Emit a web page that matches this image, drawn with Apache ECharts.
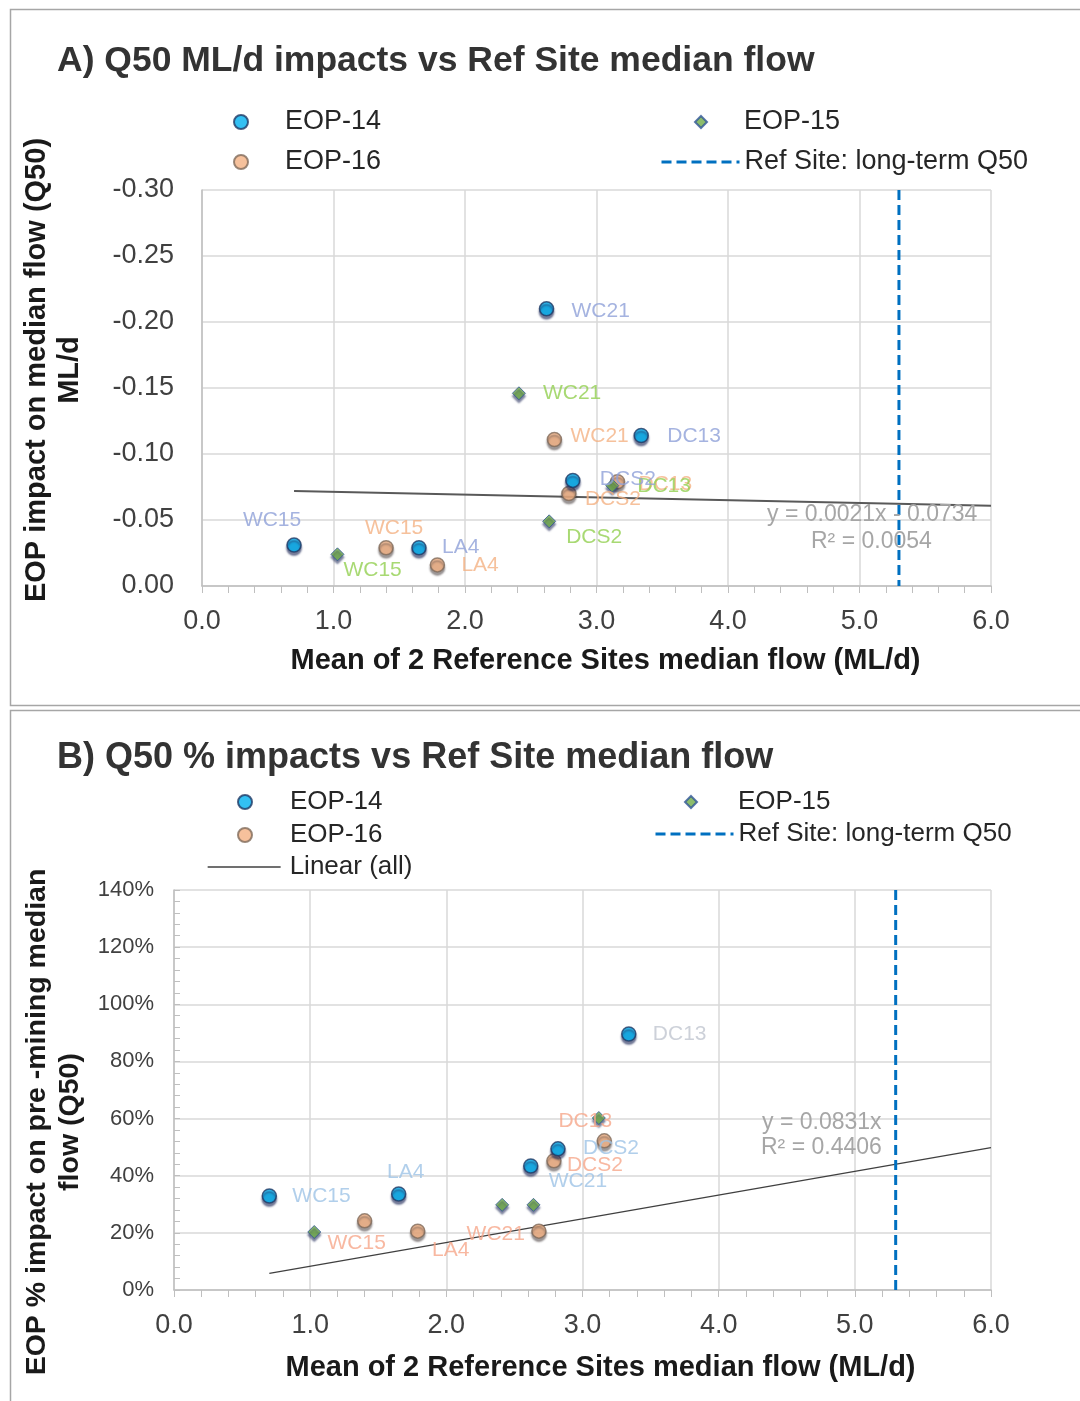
<!DOCTYPE html>
<html>
<head>
<meta charset="utf-8">
<script src="https://cdn.jsdelivr.net/npm/echarts@6/dist/echarts.min.js"></script>
<style>
html,body{margin:0;padding:0;background:#fff;}
#chart{width:1080px;height:1401px;}
</style>
</head>
<body>
<div id="chart"></div>
<script>
// ---------- DATA ----------
const titleA = 'A) Q50 ML/d impacts vs Ref Site median flow';
const titleB = 'B) Q50 % impacts vs Ref Site median flow';
const xAxisName = 'Mean of 2 Reference Sites median flow (ML/d)';
const yNameA = 'EOP impact on median flow (Q50)\nML/d';
const yNameB = 'EOP % impact on pre -mining median\nflow (Q50)';

const refSiteQ50 = 5.3; // Ref Site long-term Q50 (ML/d)

// x = mean of 2 reference sites median flow (ML/d), shared by both panels
const sitesEOP14 = ['WC15', 'LA4', 'WC21', 'DCS2', 'DC13'];
const xEOP14 = [0.70, 1.65, 2.62, 2.82, 3.34];
const sitesEOP15 = ['WC15', 'WC21', 'DCS2', 'DC13'];
const xEOP15 = [1.03, 2.41, 2.64, 3.12];
const sitesEOP16 = ['WC15', 'LA4', 'WC21', 'DCS2', 'DC13'];
const xEOP16 = [1.40, 1.79, 2.68, 2.79, 3.16];

// Panel A: impact on median flow (ML/d)
const yA_EOP14 = [-0.031, -0.029, -0.210, -0.080, -0.114];
const yA_EOP15 = [-0.024, -0.146, -0.049, -0.076];
const yA_EOP16 = [-0.029, -0.016, -0.111, -0.070, -0.079];
// Panel B: % impact on pre-mining median flow
const yB_EOP14 = [0.329, 0.336, 0.434, 0.494, 0.896];
const yB_EOP15 = [0.203, 0.298, 0.298, 0.602];
const yB_EOP16 = [0.242, 0.206, 0.206, 0.452, 0.522];

// Linear trend lines (all points)
const trendA = { slope: 0.0021, intercept: -0.0734, xFrom: 0.7, xTo: 6.0 };
const trendB = { slope: 0.0831, intercept: 0, xFrom: 0.7, xTo: 6.0 };
const eqA = ['y = 0.0021x - 0.0734', 'R² = 0.0054'];
const eqB = ['y = 0.0831x', 'R² = 0.4406'];

const yTicksA = { min: -0.30, max: 0.00, interval: 0.05 };
const yTicksB = { min: 0, max: 1.4, interval: 0.2 };
const xTicks = { min: 0, max: 6, interval: 1 };

// ---------- LABEL LAYOUT (style, not data) : [dx, dy, align] ----------
const lblA14 = { WC15: [-22, -25, 'center'], LA4: [23, -1, 'left'], WC21: [25, 2, 'left'], DCS2: [27, -1, 'left'], DC13: [26, 1, 'left'] };
const lblA15 = { WC15: [6, 16, 'left'], WC21: [24, 0, 'left'], DCS2: [17, 16, 'left'], DC13: [25, 1, 'left'] };
const lblA16 = { WC15: [8, -20, 'center'], LA4: [24, 0, 'left'], WC21: [16, -3, 'left'], DCS2: [16, 6, 'left'], DC13: [21, 2, 'left'] };
const lblB14 = { WC15: [23, 0, 'left'], LA4: [7, -22, 'center'], WC21: [18, 15, 'left'], DCS2: [25, -1, 'left'], DC13: [24, 0, 'left', '#c0c6d0'] };
const lblB16 = { WC15: [-8, 22, 'center'], LA4: [33, 19, 'center'], WC21: [-14, 3, 'right'], DCS2: [13, 4, 'left'], DC13: [-19, -20, 'center'] };

const FONT = "'Liberation Sans', Arial, sans-serif";

function pts(sites, xs, ys, layout, color) {
  return sites.map((s, i) => {
    const item = { name: s, value: [xs[i], ys[i]] };
    if (layout && layout[s]) {
      const L = layout[s];
      item.label = {
        show: true, position: 'inside', offset: [L[0], L[1]], align: L[2],
        verticalAlign: 'middle', formatter: s, color: L[3] || color
      };
    } else {
      item.label = { show: false };
    }
    return item;
  });
}
function trendData(t) {
  return [[t.xFrom, t.slope * t.xFrom + t.intercept], [t.xTo, t.slope * t.xTo + t.intercept]];
}

const styles = {
  EOP14: { color: '#00b0f0', borderColor: '#1f3864', borderWidth: 1.5, shadowColor: 'rgba(20,30,80,0.7)', shadowBlur: 2, shadowOffsetY: 3 },
  EOP15: { color: '#70ad47', borderColor: '#2f5597', borderWidth: 1, shadowColor: 'rgba(20,30,80,0.7)', shadowBlur: 2, shadowOffsetY: 3 },
  EOP16: { color: '#f4b183', borderColor: '#7f6a5a', borderWidth: 1.5, shadowColor: 'rgba(60,50,50,0.6)', shadowBlur: 2, shadowOffsetY: 3 }
};

function scatter(name, data, idx, st, symbol, size, labelColor) {
  return {
    type: 'scatter', name: name, xAxisIndex: idx, yAxisIndex: idx,
    symbol: symbol, symbolSize: size, itemStyle: st, data: data, z: 5,
    label: { fontSize: 21, fontFamily: FONT, color: labelColor },
    emphasis: { disabled: true }
  };
}

function xAxisCfg(idx) {
  return {
    type: 'value', gridIndex: idx, min: xTicks.min, max: xTicks.max, interval: xTicks.interval,
    name: xAxisName, nameLocation: 'middle', nameGap: idx === 0 ? 60 : 63,
    nameTextStyle: { fontSize: 29, fontWeight: 'bold', color: '#1a1a1a', fontFamily: FONT,
      padding: idx === 0 ? [0, 0, 0, 18] : [0, 0, 0, 36] },
    axisLine: { show: true, lineStyle: { color: '#bfbfbf', width: 1.5 } },
    axisTick: { show: true, length: 7, lineStyle: { color: '#bfbfbf' } },
    minorTick: { show: true, splitNumber: 5, length: 7, lineStyle: { color: '#bfbfbf' } },
    splitLine: { show: true, lineStyle: { color: '#d9d9d9', width: 1.5 } },
    axisLabel: { fontSize: 27, color: '#404040', fontFamily: FONT, margin: 22, formatter: v => v.toFixed(1) }
  };
}

function legendItem(name, icon, left, centerY, w, h, spacer, size, lineW) {
  const d = { name: name };
  if (icon) d.icon = icon;
  if (lineW) { d.itemStyle = { opacity: 0 }; d.lineStyle = { width: lineW }; }
  return {
    data: [d], left: left, top: centerY - size / 2 + 2,
    itemWidth: w, itemHeight: h, padding: 0, selectedMode: false,
    formatter: n => '{s|}' + n,
    textStyle: { fontSize: size, color: '#262626', fontFamily: FONT, rich: { s: { width: spacer, fontSize: size } } }
  };
}

const option = {
  animation: false,
  backgroundColor: '#ffffff',
  title: [
    { text: titleA, left: 52, top: 38, textStyle: { fontSize: 35.5, fontWeight: 'bold', color: '#333333', fontFamily: FONT } },
    { text: titleB, left: 52, top: 735, textStyle: { fontSize: 36, fontWeight: 'bold', color: '#333333', fontFamily: FONT } }
  ],
  legend: [
    legendItem('EOP-14', 'circle', 233, 120, 14, 14, 32, 27),
    legendItem('EOP-15', 'diamond', 694, 120, 12, 12, 32, 27),
    legendItem('EOP-16', 'circle', 233, 160, 14, 14, 32, 27),
    legendItem('Ref Site: long-term Q50', null, 660, 160, 78, 14, 0, 27, 3),
    legendItem('EOP-14', 'circle', 237, 800, 14, 14, 33, 26),
    legendItem('EOP-15', 'diamond', 684, 800, 12, 12, 36, 26),
    legendItem('EOP-16', 'circle', 237, 833, 14, 14, 33, 26),
    legendItem('Ref Site: long-term Q50', null, 654, 832, 78, 14, 0, 26, 3),
    legendItem('Linear (all)', null, 207, 865, 73, 14, 4, 26, 1.3)
  ],
  grid: [
    { left: 202, top: 190, width: 789, height: 396 },
    { left: 174, top: 890, width: 817, height: 400 }
  ],
  xAxis: [xAxisCfg(0), xAxisCfg(1)],
  yAxis: [
    {
      type: 'value', gridIndex: 0, inverse: true, min: yTicksA.min, max: yTicksA.max, interval: yTicksA.interval,
      name: yNameA, nameLocation: 'middle', nameRotate: 90, nameGap: 116,
      nameTextStyle: { fontSize: 29, fontWeight: 'bold', color: '#1a1a1a', fontFamily: FONT, lineHeight: 33, align: 'center',
        padding: [0, 0, 0, 36] },
      axisLine: { show: true, lineStyle: { color: '#bfbfbf', width: 1.5 } },
      axisTick: { show: false },
      splitLine: { show: true, lineStyle: { color: '#d9d9d9', width: 1.5 } },
      axisLabel: { fontSize: 27, color: '#404040', fontFamily: FONT, margin: 28, formatter: v => v.toFixed(2) }
    },
    {
      type: 'value', gridIndex: 1, min: yTicksB.min, max: yTicksB.max, interval: yTicksB.interval,
      name: yNameB, nameLocation: 'middle', nameRotate: 90, nameGap: 86,
      nameTextStyle: { fontSize: 28.5, fontWeight: 'bold', color: '#1a1a1a', fontFamily: FONT, lineHeight: 33, align: 'center',
        padding: [0, 64, 0, 0] },
      axisLine: { show: true, lineStyle: { color: '#bfbfbf', width: 1.5 } },
      axisTick: { show: true, inside: true, length: 6, lineStyle: { color: '#bfbfbf' } },
      minorTick: { show: true, splitNumber: 5, length: 6, lineStyle: { color: '#bfbfbf' } },
      splitLine: { show: true, lineStyle: { color: '#d9d9d9', width: 1.5 } },
      axisLabel: { fontSize: 22, color: '#404040', fontFamily: FONT, margin: 20, formatter: v => Math.round(v * 100) + '%' }
    }
  ],
  series: [
    // Panel A
    { type: 'line', name: 'Linear A', xAxisIndex: 0, yAxisIndex: 0, data: trendData(trendA), symbol: 'none',
      lineStyle: { color: '#595959', width: 2 }, z: 3, silent: true },
    { type: 'line', name: 'Ref Site: long-term Q50', xAxisIndex: 0, yAxisIndex: 0,
      data: [[refSiteQ50, yTicksA.min], [refSiteQ50, yTicksA.max]], symbol: 'none',
      lineStyle: { color: '#0070c0', width: 3, type: [10, 5] }, itemStyle: { color: '#0070c0' }, z: 4, silent: true },
    scatter('EOP-16', pts(sitesEOP16, xEOP16, yA_EOP16, lblA16, '#f4b183'), 0, styles.EOP16, 'circle', 14, '#f4b183'),
    scatter('EOP-15', pts(sitesEOP15, xEOP15, yA_EOP15, lblA15, '#92d050'), 0, styles.EOP15, 'diamond', 13, '#92d050'),
    scatter('EOP-14', pts(sitesEOP14, xEOP14, yA_EOP14, lblA14, '#8fa0d8'), 0, styles.EOP14, 'circle', 14, '#8fa0d8'),
    // Panel B
    { type: 'line', name: 'Linear (all)', xAxisIndex: 1, yAxisIndex: 1, data: trendData(trendB), symbol: 'none',
      lineStyle: { color: '#404040', width: 1.3 }, itemStyle: { color: '#404040' }, z: 3, silent: true },
    { type: 'line', name: 'Ref Site: long-term Q50', xAxisIndex: 1, yAxisIndex: 1,
      data: [[refSiteQ50, yTicksB.min], [refSiteQ50, yTicksB.max]], symbol: 'none',
      lineStyle: { color: '#0070c0', width: 3, type: [10, 5] }, itemStyle: { color: '#0070c0' }, z: 4, silent: true },
    scatter('EOP-16', pts(sitesEOP16, xEOP16, yB_EOP16, lblB16, '#f6a68a'), 1, styles.EOP16, 'circle', 14, '#f6a68a'),
    scatter('EOP-15', pts(sitesEOP15, xEOP15, yB_EOP15, null, '#92d050'), 1, styles.EOP15, 'diamond', 13, '#92d050'),
    scatter('EOP-14', pts(sitesEOP14, xEOP14, yB_EOP14, lblB14, '#9dc3e6'), 1, styles.EOP14, 'circle', 14, '#9dc3e6')
  ],
  graphic: [
    { type: 'rect', left: 8, top: 7, shape: { width: 1100, height: 696 }, style: { fill: 'none', stroke: '#a6a6a6', lineWidth: 1.5 }, silent: true, z: -1 },
    { type: 'rect', left: 8, top: 708, shape: { width: 1100, height: 720 }, style: { fill: 'none', stroke: '#a6a6a6', lineWidth: 1.5 }, silent: true, z: -1 },
    { type: 'text', left: 767, top: 503, style: { text: eqA[0], fontSize: 23, fill: '#a6a6a6', fontFamily: FONT }, z: 10 },
    { type: 'text', left: 811, top: 530, style: { text: eqA[1], fontSize: 23, fill: '#a6a6a6', fontFamily: FONT }, z: 10 },
    { type: 'text', left: 762, top: 1111, style: { text: eqB[0], fontSize: 23, fill: '#a6a6a6', fontFamily: FONT }, z: 10 },
    { type: 'text', left: 761, top: 1136, style: { text: eqB[1], fontSize: 23, fill: '#a6a6a6', fontFamily: FONT }, z: 10 }
  ]
};

const chart = echarts.init(document.getElementById('chart'), null, { renderer: 'canvas' });
chart.setOption(option);
</script>
</body>
</html>
